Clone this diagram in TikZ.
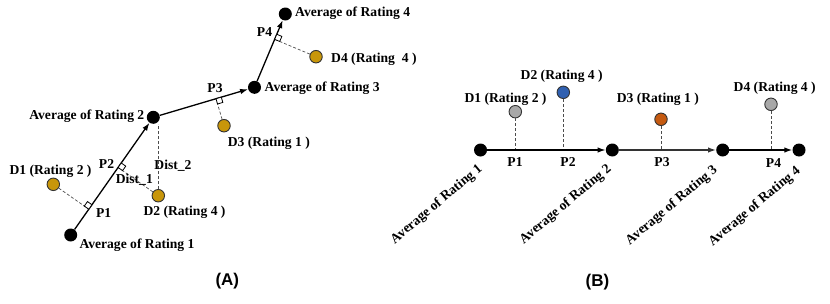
\documentclass[tikz,border=0pt]{standalone}
\usepackage{fontspec}
\setmainfont{Liberation Serif}
\newfontfamily\capfont{Liberation Sans}
\usetikzlibrary{calc,arrows.meta}
\definecolor{gold}{HTML}{C8960A}
\definecolor{dblue}{HTML}{3060B0}
\definecolor{dorange}{HTML}{C55A11}
\definecolor{lgrey}{HTML}{A8A8A8}
\tikzset{
  blackdot/.style={circle,fill=black,inner sep=0pt,minimum size=13pt},
  datadot/.style={circle,draw=black!80,line width=0.9pt,inner sep=0pt,minimum size=12.5pt},
  lbl/.style={font=\fontsize{13.6}{15}\selectfont\bfseries,inner sep=0pt},
  panel/.style={font=\capfont\fontsize{17}{19}\selectfont\bfseries,inner sep=0pt},
  arr/.style={line width=1.3pt,-{Latex[length=8pt,width=5.5pt]}},
  dotted line/.style={densely dashed,line width=0.7pt,black!70},
  marker/.style={line width=0.8pt,fill=white}
}
\begin{document}
\begin{tikzpicture}[x=1pt,y=-1pt]
\useasboundingbox (0,0) rectangle (830,303);
% ---------------- Panel A ----------------
\node[blackdot] (a1) at (70.7,235) {};
\node[blackdot] (a2) at (153.3,117.3) {};
\node[blackdot] (a3) at (254.5,87.3) {};
\node[blackdot] (a4) at (285.3,14) {};
\node[datadot,fill=gold] (d1) at (53.3,184.3) {};
\node[datadot,fill=gold] (d2) at (158.3,195.7) {};
\node[datadot,fill=gold] (d3) at (224,125.7) {};
\node[datadot,fill=gold] (d4) at (316,56.7) {};
\coordinate (f1) at ($(a1)!(d1)!(a2)$);
\coordinate (f2) at ($(a1)!(d2)!(a2)$);
\coordinate (f3) at ($(a2)!(d3)!(a3)$);
\coordinate (f4) at ($(a3)!(d4)!(a4)$);
\draw[dotted line] (d1) -- (f1);
\draw[dotted line] (d2) -- (f2);
\draw[dotted line] (d3) -- (f3);
\draw[dotted line] (d4) -- (f4);
\coordinate (t2) at (d2 |- a2.south);
\draw[dotted line] (d2) -- (t2);
\draw[arr] (a1) -- (a2);
\draw[arr] (a2) -- (a3);
\draw[arr] (a3) -- (a4);
% right angle markers
\coordinate (u1) at ($(f1)!5.5pt!(a2)$); \coordinate (v1) at ($(f1)!5.5pt!(d1)$);
\draw[marker] (f1) -- (u1) -- ($(u1)+(v1)-(f1)$) -- (v1) -- cycle;
\coordinate (u2) at ($(f2)!5.5pt!(a2)$); \coordinate (v2) at ($(f2)!5.5pt!(d2)$);
\draw[marker] (f2) -- (u2) -- ($(u2)+(v2)-(f2)$) -- (v2) -- cycle;
\coordinate (u3) at ($(f3)!5.5pt!(a3)$); \coordinate (v3) at ($(f3)!5.5pt!(d3)$);
\draw[marker] (f3) -- (u3) -- ($(u3)+(v3)-(f3)$) -- (v3) -- cycle;
\coordinate (u4) at ($(f4)!5.5pt!(a4)$); \coordinate (v4) at ($(f4)!5.5pt!(d4)$);
\draw[marker] (f4) -- (u4) -- ($(u4)+(v4)-(f4)$) -- (v4) -- cycle;
% labels A
\node[lbl,anchor=mid west] (la1) at (79.3,246) {Average of Rating 1};
\node[lbl,anchor=mid east] (la2) at (144.5,117.5) {Average of Rating 2};
\node[lbl,anchor=mid west] (la3) at (264.5,89) {Average of Rating 3};
\node[lbl,anchor=mid west] (la4) at (295,14.5) {Average of Rating 4};
\node[lbl,anchor=mid] (ld1) at (50.5,172) {D1 (Rating 2 )};
\node[lbl,anchor=mid] (ld2) at (184.5,213) {D2 (Rating 4 )};
\node[lbl,anchor=mid west] (ld3) at (227.7,144) {D3 (Rating 1 )};
\node[lbl,anchor=mid west] (ld4) at (331,60.5) {D4 (Rating\ \ 4 )};
\node[lbl,anchor=mid] (lp1) at (103.7,215.3) {P1};
\node[lbl,anchor=mid] (lp2) at (106.5,166.7) {P2};
\node[lbl,anchor=mid] (lp3) at (215,90) {P3};
\node[lbl,anchor=mid] (lp4) at (264.5,34.3) {P4};
\node[lbl,anchor=mid] (ldist1) at (134.3,181.7) {Dist\_1};
\node[lbl,anchor=mid] (ldist2) at (173,167.7) {Dist\_2};
\node[panel] (capA) at (227.3,281) {(A)};
% ---------------- Panel B ----------------
\node[blackdot] (b1) at (480.5,150) {};
\node[blackdot] (b2) at (612.3,150) {};
\node[blackdot] (b3) at (722.7,150) {};
\node[blackdot] (b4) at (799,150) {};
\node[datadot,fill=lgrey] (e1) at (515.3,111.7) {};
\node[datadot,fill=dblue] (e2) at (563.3,92.3) {};
\node[datadot,fill=dorange] (e3) at (661,119.3) {};
\node[datadot,fill=lgrey] (e4) at (771,104.3) {};
\draw[dotted line] (e1) -- (e1 |- b1);
\draw[dotted line] (e2) -- (e2 |- b1);
\draw[dotted line] (e3) -- (e3 |- b1);
\draw[dotted line] (e4) -- (e4 |- b1);
\draw[arr] (b1) -- (b2);
\draw[arr,black!80] (b2) -- (b3);
\draw[arr] (b3) -- (b4);
\node[lbl,anchor=mid] (le1) at (505.5,100.7) {D1 (Rating 2 )};
\node[lbl,anchor=mid] (le2) at (561.7,77.3) {D2 (Rating 4 )};
\node[lbl,anchor=mid] (le3) at (657.8,100.7) {D3 (Rating 1 )};
\node[lbl,anchor=mid] (le4) at (774.7,89.3) {D4 (Rating 4 )};
\node[lbl,anchor=mid] (lq1) at (515,164) {P1};
\node[lbl,anchor=mid] (lq2) at (568,164) {P2};
\node[lbl,anchor=mid] (lq3) at (662,164.5) {P3};
\node[lbl,anchor=mid] (lq4) at (773.5,165) {P4};
\node[lbl,anchor=base east,rotate=40] (lb1) at (483,170) {Average of Rating 1};
\node[lbl,anchor=base east,rotate=40] (lb2) at (612,170) {Average of Rating 2};
\node[lbl,anchor=base east,rotate=40] (lb3) at (718,171) {Average of Rating 3};
\node[lbl,anchor=base east,rotate=40] (lb4) at (801,172) {Average of Rating 4};
\node[panel] (capB) at (597.5,281.7) {(B)};
\end{tikzpicture}
\end{document}
